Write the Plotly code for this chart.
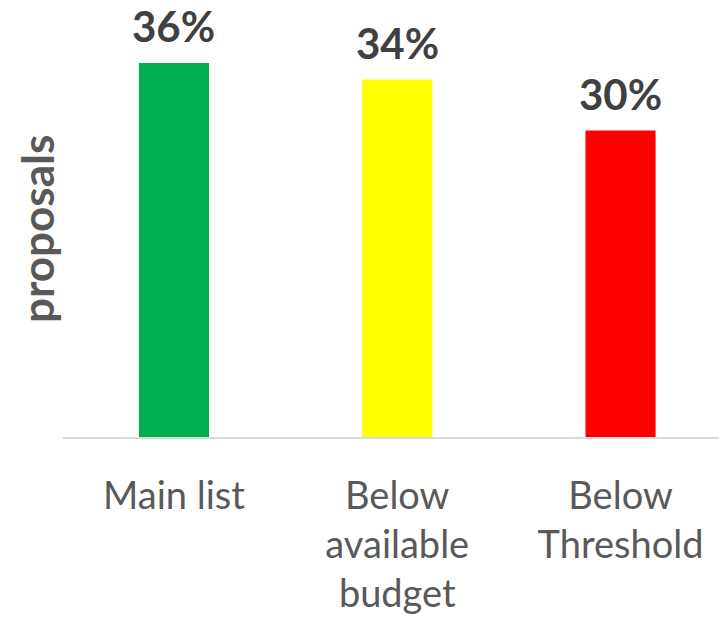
import plotly.graph_objects as go

categories = ["Main list", "Below<br>available<br>budget", "Below<br>Threshold"]
values = [36.0, 34.4, 29.5]
value_labels = ["36%", "34%", "30%"]
colors = ["#00B050", "#FFFF00", "#FF0000"]

W, H = 719, 618
L, R, T, B = 63, 0, 0, 181

fig = go.Figure()
fig.add_trace(go.Bar(
    x=list(range(len(categories))),
    y=values,
    marker=dict(color=colors, line=dict(width=0)),
    width=0.314,
    hoverinfo="skip",
))

for i, (v, lab) in enumerate(zip(values, value_labels)):
    fig.add_annotation(
        x=i, y=v, xref="x", yref="y", text=f"<b>{lab}</b>",
        showarrow=False, yanchor="bottom", yshift=10,
        font=dict(family="Lato", size=42, color="#404040"),
    )

fig.add_annotation(
    x=(37 - L) / (W - L - R), y=(437 - 229) / (H - T - B),
    xref="paper", yref="paper", text="<b>proposals</b>",
    textangle=-90, showarrow=False, xanchor="center", yanchor="middle",
    font=dict(family="Lato", size=44, color="#595959"),
)

fig.update_layout(
    width=W, height=H,
    margin=dict(l=L, r=R, t=T, b=B, pad=0),
    paper_bgcolor="white", plot_bgcolor="white",
    showlegend=False,
    xaxis=dict(
        tickmode="array", tickvals=list(range(len(categories))), ticktext=categories,
        range=[-0.497, 2.441], showline=True, linecolor="#D9D9D9", linewidth=2,
        showgrid=False, zeroline=False, ticks="",
        tickfont=dict(family="Lato", size=38, color="#595959"),
        ticklabelstandoff=24,
    ),
    yaxis=dict(range=[0, 42.06], visible=False, showgrid=False, zeroline=False),
)

fig.write_html("out.html")
